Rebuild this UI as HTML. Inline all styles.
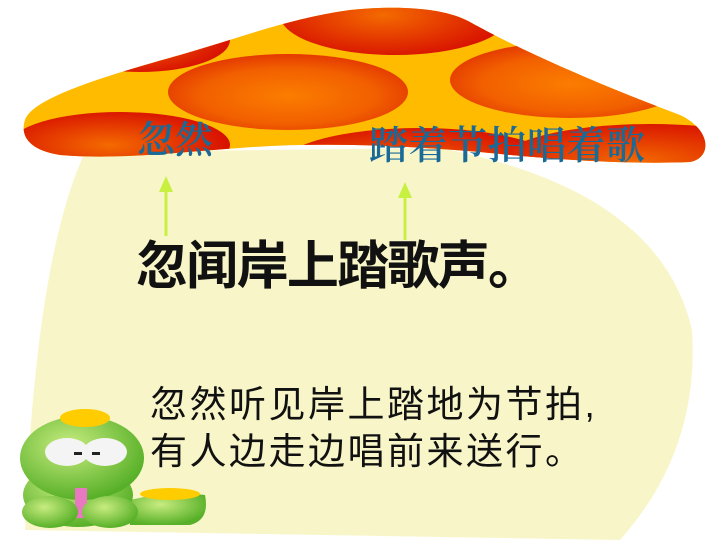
<!DOCTYPE html>
<html><head><meta charset="utf-8"><style>
html,body{margin:0;padding:0;background:#fff;}
svg{display:block;}
</style></head><body>
<svg width="720" height="540" viewBox="0 0 720 540" xmlns="http://www.w3.org/2000/svg">
<defs>
<radialGradient id="spot" cx="50%" cy="55%" r="60%">
<stop offset="0" stop-color="#fb7d00"/><stop offset="0.6" stop-color="#f26000"/><stop offset="1" stop-color="#e03000"/></radialGradient>
<radialGradient id="spot2" cx="45%" cy="50%" r="60%">
<stop offset="0" stop-color="#f46a00"/><stop offset="1" stop-color="#d50800"/></radialGradient>
<clipPath id="capclip"><path d="M25,120 C32,100 90,80 180,55 C240,38 290,18 350,10 C400,5 445,8 470,22 C520,50 600,85 680,115 C712,130 712,158 690,162 C620,165 540,158 480,152 Q340,140 240,148 C180,152 120,160 60,155 C28,150 20,135 25,120 Z"/></clipPath>
<radialGradient id="frog" cx="40%" cy="35%" r="65%"><stop offset="0" stop-color="#c8ec80"/><stop offset="1" stop-color="#58b028"/></radialGradient>
</defs>
<path d="M85,152 Q35,260 25,530 L620,540 Q700,450 692,330 Q660,190 440,148 Z" fill="#f8f6c8"/>
<g clip-path="url(#capclip)">
<rect x="0" y="0" width="720" height="180" fill="#ffbb00"/>
<ellipse cx="288" cy="92" rx="120" ry="38" fill="url(#spot)"/>
<ellipse cx="395" cy="15" rx="115" ry="40" fill="url(#spot2)"/>
<ellipse cx="570" cy="80" rx="120" ry="38" fill="url(#spot)"/>
<ellipse cx="140" cy="40" rx="90" ry="32" fill="url(#spot2)"/>
<ellipse cx="120" cy="145" rx="110" ry="33" fill="url(#spot2)"/>
<ellipse cx="420" cy="166" rx="140" ry="38" fill="url(#spot2)"/>
<ellipse cx="650" cy="162" rx="150" ry="38" fill="url(#spot2)"/>
</g>
<text x="137" y="153" font-family="'Liberation Serif','Noto Serif CJK SC',serif" font-size="38" font-weight="600" fill="#1a6a98">忽然</text>
<text x="369" y="159" font-family="'Liberation Serif','Noto Serif CJK SC',serif" font-size="39" font-weight="600" fill="#1a6a98" textLength="276">踏着节拍唱着歌</text>
<g><line x1="166" y1="190" x2="166" y2="236" stroke="#c8f040" stroke-width="3"/><polygon points="159,192 166,176 173,192" fill="#c8f040"/></g>
<g><line x1="405" y1="196" x2="405" y2="240" stroke="#c8f040" stroke-width="3"/><polygon points="398,198 405,182 412,198" fill="#c8f040"/></g>
<text x="136" y="284" font-family="'Liberation Sans','Noto Sans CJK SC',sans-serif" font-weight="bold" font-size="52" fill="#111" textLength="404">忽闻岸上踏歌声。</text>
<text x="150" y="417" font-family="'Liberation Sans','Noto Sans CJK SC',sans-serif" font-size="37" letter-spacing="2.5" fill="#111">忽然听见岸上踏地为节拍,</text>
<text x="150" y="464" font-family="'Liberation Sans','Noto Sans CJK SC',sans-serif" font-size="37" letter-spacing="2.5" fill="#111">有人边走边唱前来送行。</text>
<g>
<path d="M130,500 Q170,490 205,495 Q210,520 190,525 L130,525 Z" fill="url(#frog)"/>
<ellipse cx="170" cy="494" rx="30" ry="6" fill="#ffcc00"/>
<ellipse cx="78" cy="495" rx="55" ry="32" fill="url(#frog)"/>
<ellipse cx="82" cy="458" rx="62" ry="42" fill="url(#frog)"/>
<ellipse cx="85" cy="418" rx="25" ry="9" fill="#ffcc00"/>
<ellipse cx="67" cy="452" rx="22" ry="14" fill="#f4f4f4"/>
<ellipse cx="105" cy="452" rx="22" ry="14" fill="#f4f4f4"/>
<rect x="74" y="452" width="8" height="3" fill="#222"/><rect x="92" y="452" width="8" height="3" fill="#222"/>
<rect x="75" y="488" width="12" height="30" fill="#e878c0"/>
<ellipse cx="50" cy="512" rx="28" ry="16" fill="url(#frog)"/>
<ellipse cx="110" cy="512" rx="28" ry="16" fill="url(#frog)"/>
</g>
</svg>
</body></html>
